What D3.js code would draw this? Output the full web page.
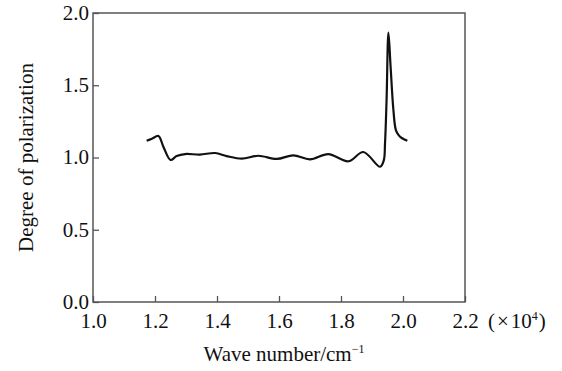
<!DOCTYPE html>
<html><head><meta charset="utf-8">
<script src="https://cdn.jsdelivr.net/npm/d3@7"></script>
<style>body{margin:0;background:#fff}svg{display:block}svg text{font-family:"Liberation Serif","Times New Roman",serif !important;fill:#111}</style>
</head><body>
<svg id="c" width="562" height="371"></svg>
<script>
const waveNumber = [1.173,1.19,1.211,1.227,1.25,1.27,1.297,1.345,1.394,1.431,1.48,1.533,1.593,1.646,1.70,1.759,1.824,1.872,1.926,1.938,1.942,1.947,1.953,1.960,1.969,1.977,1.986,1.996,2.014];
const polarization = [1.116,1.13,1.149,1.075,0.983,1.010,1.024,1.02,1.031,1.010,0.992,1.012,0.990,1.015,0.987,1.024,0.974,1.038,0.936,0.98,1.098,1.398,1.864,1.628,1.329,1.190,1.155,1.135,1.116];
const xTicks = [1.0,1.2,1.4,1.6,1.8,2.0,2.2];
const yTicks = [0.0,0.5,1.0,1.5,2.0];

const svg = d3.select("#c");
const L=93,R=465,T=13,B=302;
const x = d3.scaleLinear().domain([1.0,2.2]).range([L,R]);
const y = d3.scaleLinear().domain([0,2.0]).range([B,T]);
const axisColor = "#555";
const FONT = '"Liberation Serif","Times New Roman",serif';

// frame
svg.append("rect").attr("x",L).attr("y",T).attr("width",R-L).attr("height",B-T)
  .attr("fill","none").attr("stroke",axisColor).attr("stroke-width",1.5);

// y ticks (inward)
const ya = svg.append("g").attr("transform",`translate(${L},0)`)
  .call(d3.axisLeft(y).tickValues(yTicks).tickFormat(d3.format(".1f")).tickSizeInner(-6).tickSizeOuter(0).tickPadding(4));
ya.attr("font-family",FONT).attr("font-size",21);
ya.select(".domain").remove();
ya.selectAll("line").attr("stroke",axisColor).attr("stroke-width",1.3);
ya.selectAll("text").style("font-family",FONT).style("font-size","21px").attr("fill","#111").attr("dy","0.3em");

// x ticks (inward)
const xa = svg.append("g").attr("transform",`translate(0,${B})`)
  .call(d3.axisBottom(x).tickValues(xTicks).tickFormat(d3.format(".1f")).tickSizeInner(-6).tickSizeOuter(0).tickPadding(6));
xa.attr("font-family",FONT).attr("font-size",21);
xa.select(".domain").remove();
xa.selectAll("line").attr("stroke",axisColor).attr("stroke-width",1.3);
xa.selectAll("text").style("font-family",FONT).style("font-size","21px").attr("fill","#111").attr("y",26).attr("dy",0);

// multiplier
svg.append("text").attr("x",488).attr("y",B+26).style("font-size","21px").attr("text-anchor","start")
  .html('(<tspan dx="2">×</tspan><tspan dx="2">10</tspan><tspan dy="-8" style="font-size:12px">4</tspan><tspan dy="8" dx="1">)</tspan>');

// axis titles
svg.append("text").attr("x",284).attr("y",361).attr("text-anchor","middle").style("font-size","21px")
  .html('Wave number/cm<tspan dy="-8" style="font-size:12px">−1</tspan>');
svg.append("text").attr("transform",`translate(33,${(T+B)/2}) rotate(-90)`).attr("text-anchor","middle").style("font-size","21px")
  .text("Degree of polarization");

// curve
const pts = waveNumber.map((w,i)=>[w,polarization[i]]);
svg.append("path").datum(pts)
  .attr("d", d3.line().x(d=>x(d[0])).y(d=>y(d[1])).curve(d3.curveCatmullRom.alpha(0.5)))
  .attr("fill","none").attr("stroke","#111").attr("stroke-width",2.2).attr("stroke-linejoin","round");
</script>
</body></html>
